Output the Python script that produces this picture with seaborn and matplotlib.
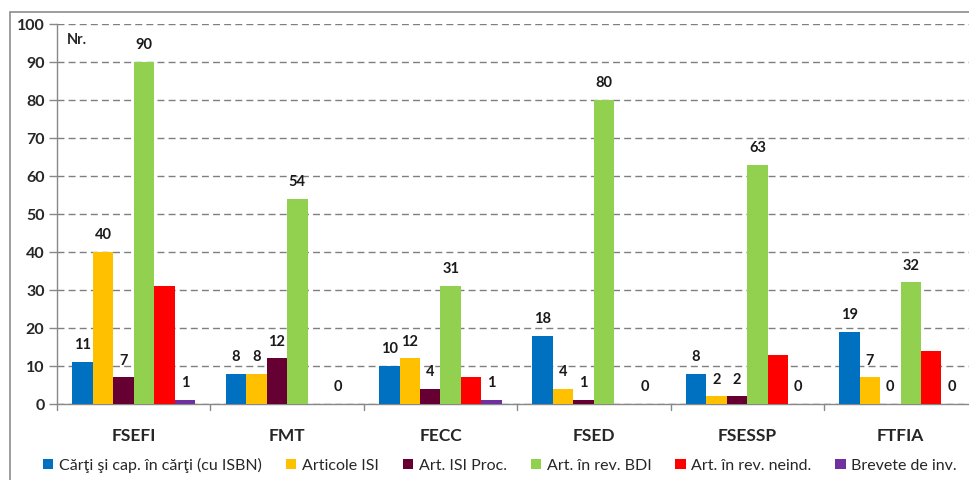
import pandas as pd
import matplotlib.pyplot as plt
import seaborn as sns
from matplotlib.patches import Rectangle

faculties = ['FSEFI', 'FMT', 'FECC', 'FSED', 'FSESSP', 'FTFIA']
series = ['Cărţi şi cap. în cărţi (cu ISBN)', 'Articole ISI', 'Art. ISI Proc.',
          'Art. în rev. BDI', 'Art. în rev. neind.', 'Brevete de inv.']
carti = [11, 8, 10, 18, 8, 19]
articole_isi = [40, 8, 12, 4, 2, 7]
isi_proc = [7, 12, 4, 1, 2, 0]
rev_bdi = [90, 54, 31, 80, 63, 32]
rev_neind = [31, 0, 7, 0, 13, 14]
brevete = [1, 0, 1, 0, 0, 0]
colors = ['#0070C0', '#FFC000', '#660033', '#92D050', '#FF0000', '#7030A0']
yticks = list(range(0, 101, 10))

values = [carti, articole_isi, isi_proc, rev_bdi, rev_neind, brevete]
rows = []
for s, vals in zip(series, values):
    for f, v in zip(faculties, vals):
        rows.append({'facultate': f, 'serie': s, 'valoare': v})
df = pd.DataFrame(rows)

sns.set_style('white')
plt.rcParams['font.family'] = ['Lato', 'DejaVu Sans']

fig = plt.figure(figsize=(9.69, 4.8), dpi=100)
ax = fig.add_axes([57 / 969, 1 - 404 / 480, 1 - 57 / 969, (404 - 24) / 480])

sns.barplot(data=df, x='facultate', y='valoare', hue='serie', order=faculties,
            hue_order=series, palette=colors, width=0.8, saturation=1,
            edgecolor='none', ax=ax, legend=True, zorder=3)

# data labels (the red series has none)
for i, cont in enumerate(ax.containers):
    if i == 4:
        continue
    ax.bar_label(cont, labels=[str(int(b.get_height())) for b in cont], padding=7,
                 fontsize=10.5, fontweight='bold', color='#1a1a1a')

ax.set_xlim(-0.5, 5.446)
ax.set_ylim(0, 100)
ax.set_yticks(yticks)
ax.set_yticklabels([str(t) for t in yticks], fontsize=11.5, fontweight='bold')
ax.yaxis.grid(True, linestyle=(0, (5, 3)), color='#7f7f7f', linewidth=1)
ax.set_axisbelow(True)
ax.set_xlabel('')
ax.set_ylabel('')
ax.set_xticks(range(len(faculties)))
ax.set_xticklabels(faculties, fontsize=12.5, fontweight='bold')
ax.tick_params(axis='x', length=0, pad=17)
ax.tick_params(axis='y', length=6, width=1, color='#888888', left=True, pad=3)

# category separator ticks
for k in range(len(faculties) + 1):
    ax.plot([k - 0.5, k - 0.5], [0, -0.015], transform=ax.get_xaxis_transform(),
            color='#888888', lw=1, clip_on=False)

for side in ['top', 'right']:
    ax.spines[side].set_visible(False)
for side in ['left', 'bottom']:
    ax.spines[side].set_color('#888888')
    ax.spines[side].set_linewidth(1)

ax.text(0.011, 0.975, 'Nr.', transform=ax.transAxes, fontsize=10.5,
        fontweight='bold', va='top', ha='left')

ax.legend(loc='center', bbox_to_anchor=((500 - 57) / 912, (404 - 465) / 380), ncol=6,
          frameon=False, fontsize=11.5, handlelength=0.65, handleheight=0.65,
          handletextpad=0.35, columnspacing=1.5, borderaxespad=0)

fig.patches.append(Rectangle((10 / 969, -0.1), 1.0, 1.1 - 12 / 480,
                             transform=fig.transFigure, fill=False,
                             edgecolor='#8c8c8c', lw=1.2))

fig.savefig('out.png', dpi=100)
